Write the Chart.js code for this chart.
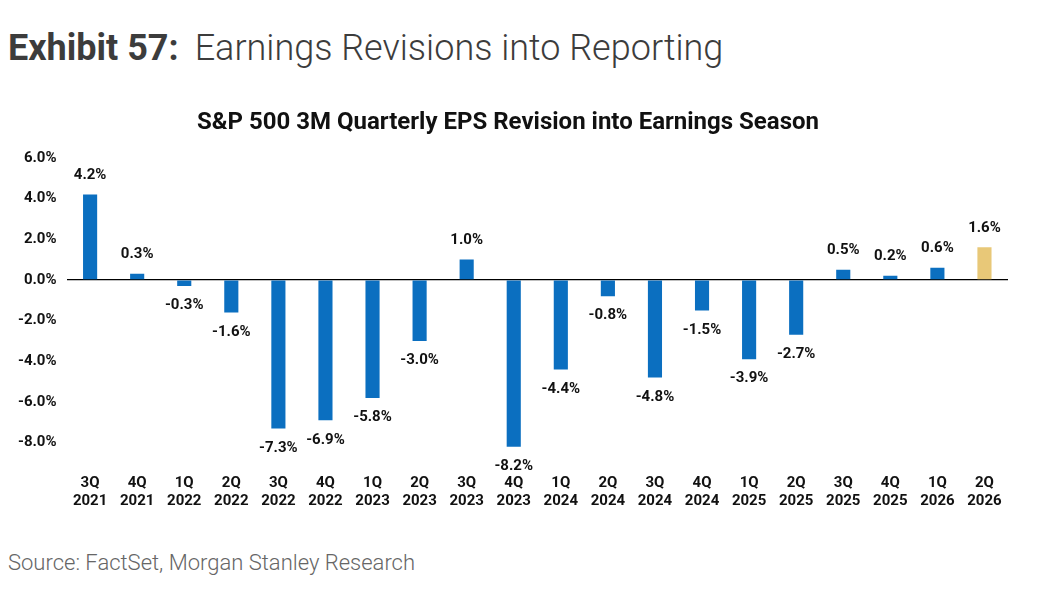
<!DOCTYPE html>
<html><head><meta charset="utf-8">
<script src="https://cdn.jsdelivr.net/npm/chart.js@4"></script>
<style>
body{margin:0;width:1048px;height:608px;background:#fff;font-family:Roboto,sans-serif;position:relative;overflow:hidden}
#h{position:absolute;left:8px;top:27px;font-size:36px;color:#3c3c3c;white-space:nowrap}
#h b{font-weight:700;margin-right:16px}
#h span{font-weight:300}
#s{position:absolute;left:8px;top:550px;font-size:22px;font-weight:300;color:#666}
#w{position:absolute;left:0;top:103px;width:1008px;height:410px}
</style></head><body>
<div id="h"><b>Exhibit 57:</b><span>Earnings Revisions into Reporting</span></div>
<div id="w"><canvas id="c"></canvas></div>
<div id="s">Source: FactSet, Morgan Stanley Research</div>
<script>
const categories=[["3Q","2021"],["4Q","2021"],["1Q","2022"],["2Q","2022"],["3Q","2022"],["4Q","2022"],["1Q","2023"],["2Q","2023"],["3Q","2023"],["4Q","2023"],["1Q","2024"],["2Q","2024"],["3Q","2024"],["4Q","2024"],["1Q","2025"],["2Q","2025"],["3Q","2025"],["4Q","2025"],["1Q","2026"],["2Q","2026"]];
const revisions=[4.2,0.3,-0.3,-1.6,-7.3,-6.9,-5.8,-3.0,1.0,-8.2,-4.4,-0.8,-4.8,-1.5,-3.9,-2.7,0.5,0.2,0.6,1.6];
const yTicks=[6,5,4,3,2,1,0,-1,-2,-3,-4,-5,-6,-7,-8,-9];
const colors=revisions.map((v,i)=>i===revisions.length-1?'#e8c878':'#0b6fc0');
const labelPlugin={id:'lbl',afterDatasetsDraw(ch){const ctx=ch.ctx;const m=ch.getDatasetMeta(0);ctx.save();ctx.font='bold 15px Roboto';ctx.fillStyle='#111';ctx.textAlign='center';
m.data.forEach((b,i)=>{const v=revisions[i];const t=v.toFixed(1)+'%';if(v>=0){ctx.textBaseline='bottom';ctx.fillText(t,b.x,b.y-12);}else{ctx.textBaseline='top';ctx.fillText(t,b.x,b.y+12);}});ctx.restore();}};
new Chart(document.getElementById('c'),{type:'bar',data:{labels:categories,datasets:[{data:revisions,backgroundColor:colors,barPercentage:0.3,categoryPercentage:1}]},
plugins:[labelPlugin],
options:{responsive:true,maintainAspectRatio:false,animation:false,layout:{padding:{left:8,top:0}},
plugins:{legend:{display:false},tooltip:{enabled:false},title:{display:true,text:'S&P 500 3M Quarterly EPS Revision into Earnings Season',font:{family:'Roboto',size:24,weight:'bold'},color:'#111',padding:{top:6,bottom:20}}},
scales:{x:{grid:{display:false},border:{display:false},ticks:{color:'#111',font:{family:'Roboto',size:15,weight:'bold'},maxRotation:0,autoSkip:false}},
y:{min:-9,max:6,afterBuildTicks(a){a.ticks=yTicks.map(v=>({value:v}));},border:{display:false},grid:{drawTicks:false,color:c=>c.tick&&c.tick.value===0?'#000':'rgba(0,0,0,0)',lineWidth:1.2},ticks:{color:'#111',padding:10,font:{family:'Roboto',size:15,weight:'bold'},callback:v=>v.toFixed(1)+'%'}}}}});
</script></body></html>
